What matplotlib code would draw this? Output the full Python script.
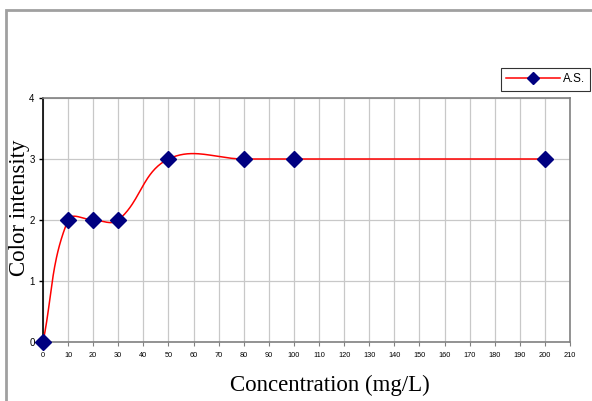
import numpy as np
import matplotlib
matplotlib.use("Agg")
import matplotlib.pyplot as plt
from matplotlib.patches import Rectangle
from matplotlib.lines import Line2D

conc = [0, 10, 20, 30, 50, 80, 100, 200]
intensity = [0, 2, 2, 2, 3, 3, 3, 3]
series_name = "A.S."
xticks = list(range(0, 211, 10))
yticks = [0, 1, 2, 3, 4]


def smooth(xs, ys, sx, sy, s=0.37, n=40):
    # bezier smoothing done in pixel space, like the spreadsheet "smoothed line"
    p = np.column_stack([np.array(xs) * sx, np.array(ys) * sy])
    out = [p[0]]
    for i in range(len(p) - 1):
        p0 = p[i - 1] if i > 0 else p[i]
        p1, p2 = p[i], p[i + 1]
        p3 = p[i + 2] if i + 2 < len(p) else p[i + 1]
        seg = np.linalg.norm(p2 - p1)
        t1 = p2 - p0
        t2 = p3 - p1
        c1 = p1 + t1 / np.linalg.norm(t1) * seg * s
        c2 = p2 - t2 / np.linalg.norm(t2) * seg * s
        t = np.linspace(0, 1, n)[1:, None]
        b = ((1 - t) ** 3) * p1 + 3 * (1 - t) ** 2 * t * c1 + 3 * (1 - t) * t ** 2 * c2 + t ** 3 * p2
        out.extend(b)
    out = np.array(out)
    return out[:, 0] / sx, out[:, 1] / sy


fig = plt.figure(figsize=(5.92, 4.01), dpi=100)
fig.patches.append(Rectangle((6 / 592, -0.1), 1.2, 1 - 10 / 401 + 0.1, transform=fig.transFigure,
                             fill=False, edgecolor="#a0a0a0", linewidth=2))

ax = fig.add_axes([43 / 592, 59 / 401, 527 / 592, 244 / 401])
ax.set_xlim(0, 210)
ax.set_ylim(0, 4)

sx = 527 / 210
sy = 244 / 4
cx, cy = smooth(conc, intensity, sx, sy)
ax.plot(cx, cy, color="red", linewidth=1.1, zorder=3)
ax.plot(conc, intensity, linestyle="none", marker="D", markersize=8.5,
        color="#000080", zorder=4, clip_on=False)

ax.set_xticks(xticks)
ax.set_xticklabels([str(v) for v in xticks], fontsize=5.3, family="Liberation Sans")
ax.set_yticks(yticks)
ax.set_yticklabels([str(v) for v in yticks], fontsize=7, family="Liberation Sans")
ax.grid(True, color="#c8c8c8", linewidth=0.9)
ax.set_axisbelow(True)
ax.tick_params(axis="x", length=3, width=0.8, color="#808080", pad=4)
ax.tick_params(axis="y", length=3, width=1, color="black", pad=3)
for side in ["top", "right", "bottom"]:
    ax.spines[side].set_color("#808080")
    ax.spines[side].set_linewidth(1.2)
ax.spines["left"].set_color("black")
ax.spines["left"].set_linewidth(1.2)

ax.set_xlabel("Concentration (mg/L)", fontsize=16.5, family="Liberation Serif")
ax.xaxis.set_label_coords((330 - 43) / 527, -(385 - 342) / 244, transform=ax.transAxes)
ax.set_ylabel("Color intensity", fontsize=16.5, family="Liberation Serif")
ax.yaxis.set_label_coords(-(43 - 20) / 527, (342 - 208) / 244, transform=ax.transAxes)
ax.xaxis.label.set_va("center")
ax.yaxis.label.set_va("center")

handle = Line2D([], [], color="red", linewidth=1.1, marker="D", markersize=6.5,
                markerfacecolor="#000080", markeredgecolor="#000080")
leg = fig.legend([handle], [series_name], loc="upper right", bbox_to_anchor=(590 / 592, 1 - 68 / 401),
                 numpoints=1, frameon=True, fancybox=False,
                 prop={"family": "Liberation Sans", "size": 8.5}, handlelength=4.6,
                 borderpad=0.45, handletextpad=0.2, borderaxespad=0)
leg.get_frame().set_edgecolor("black")
leg.get_frame().set_linewidth(0.8)

fig.savefig("out.png", dpi=100)
